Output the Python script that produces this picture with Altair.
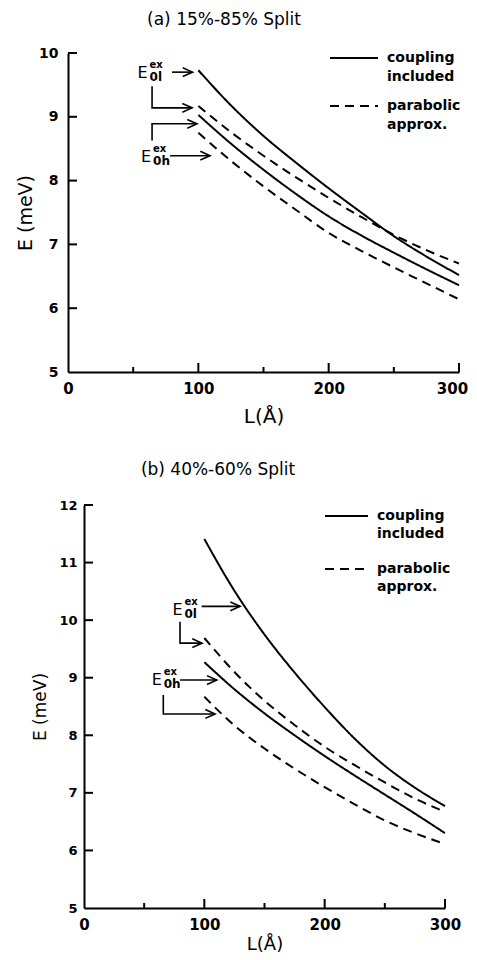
import altair as alt
import pandas as pd

# ---------------- data ----------------
L_VALUES = [100, 125, 150, 175, 200, 225, 250, 275, 300]

# (a) 15%-85% split
A_0L_COUPLING = [9.73, 9.18, 8.70, 8.28, 7.88, 7.50, 7.13, 6.81, 6.52]
A_0L_PARABOLIC = [9.17, 8.76, 8.39, 8.05, 7.73, 7.43, 7.15, 6.91, 6.70]
A_0H_COUPLING = [9.03, 8.58, 8.17, 7.79, 7.44, 7.14, 6.87, 6.61, 6.36]
A_0H_PARABOLIC = [8.75, 8.31, 7.91, 7.54, 7.18, 6.90, 6.64, 6.39, 6.14]

# (b) 40%-60% split
B_0L_COUPLING = [11.41, 10.51, 9.75, 9.09, 8.49, 7.94, 7.47, 7.09, 6.77]
B_0L_PARABOLIC = [9.69, 9.10, 8.60, 8.18, 7.80, 7.48, 7.18, 6.90, 6.67]
B_0H_COUPLING = [9.27, 8.80, 8.38, 8.00, 7.64, 7.30, 6.97, 6.64, 6.30]
B_0H_PARABOLIC = [8.67, 8.17, 7.77, 7.42, 7.10, 6.80, 6.52, 6.30, 6.11]

X_TICK_LABELS = [0, 100, 200, 300]
X_MAJOR_TICKS = [100, 200, 300]
X_MINOR_TICKS = [50, 150, 250]
A_Y_TICK_LABELS = [5, 6, 7, 8, 9, 10]
B_Y_TICK_LABELS = [5, 6, 7, 8, 9, 10, 11, 12]
KINDS = ["coupling", "parabolic"]
LEGEND_TEXT = {"coupling": ["coupling", "included"], "parabolic": ["parabolic", "approx."]}
TITLES = ["(a) 15%-85% Split", "(b) 40%-60% Split"]
AXIS_X_TITLE = "L(Å)"
AXIS_Y_TITLE = "E (meV)"

# annotation arrows (polyline points in data units, head at last point)
A_ARROWS = [
    [(79.8, 9.70), (95.5, 9.70)],
    [(64.5, 9.48), (64.5, 9.14), (95.2, 9.14)],
    [(64.5, 8.63), (64.5, 8.89), (99.0, 8.89)],
    [(78.3, 8.39), (109.0, 8.39)],
]
B_ARROWS = [
    [(97.8, 10.24), (129.7, 10.24)],
    [(79.8, 9.97), (79.8, 9.60), (98.1, 9.60)],
    [(79.8, 8.96), (110.3, 8.96)],
    [(65.9, 8.70), (65.9, 8.37), (108.9, 8.37)],
]
A_LABELS = [("0l", 57.2, 9.68), ("0h", 59.9, 8.37)]
B_LABELS = [("0l", 77.7, 10.17), ("0h", 60.4, 8.96)]

# ---------------- layout ----------------
W, H = 461, 950
FONT = "DejaVu Sans"
HEAD = "M-1,-0.45L0,0L-1,0.45"


def curves_frame(c0l, p0l, c0h, p0h):
    parts = []
    for curve, kind, vals in [("0l c", "coupling", c0l), ("0l p", "parabolic", p0l),
                              ("0h c", "coupling", c0h), ("0h p", "parabolic", p0h)]:
        parts.append(pd.DataFrame({"L": L_VALUES, "E": vals, "curve": curve, "kind": kind}))
    return pd.concat(parts, ignore_index=True)


def arrow_frames(arrows):
    rows, heads = [], []
    for i, pts in enumerate(arrows):
        for j, (x, y) in enumerate(pts):
            rows.append({"id": i, "o": j, "L": x, "E": y})
        heads.append({"L": pts[-1][0], "E": pts[-1][1]})
    return pd.DataFrame(rows), pd.DataFrame(heads)


def panel(df, arrows, labels, title, cfg):
    xr, yr = cfg["xr"], cfg["yr"]
    xs = alt.Scale(domain=[0, 300], range=xr, nice=False, zero=False)
    ys = alt.Scale(domain=cfg["ydom"], range=yr, nice=False, zero=False)
    x_axis = alt.Axis(orient="bottom", offset=yr[0] - H, values=X_TICK_LABELS, ticks=False,
                      tickSize=0, grid=False, domainColor="black", domainWidth=2,
                      labelFont=FONT, labelFontSize=15, labelFontWeight="bold",
                      labelColor="black", labelPadding=9, labelFlush=False,
                      labelOffset={"condition": {"test": "datum.value === 300",
                                                 "value": cfg["last_off"]}, "value": 0},
                      title=AXIS_X_TITLE, titleFont=FONT,
                      titleFontSize=cfg["xtfs"], titleFontWeight="normal", titleColor="black",
                      titlePadding=cfg["xtp"])
    y_axis = alt.Axis(orient="left", offset=-xr[0], values=cfg["yticks"], ticks=False,
                      tickSize=0, grid=False, domainColor="black", domainWidth=2,
                      labelFont=FONT, labelFontSize=cfg["ylfs"], labelFontWeight="bold",
                      labelColor="black", labelPadding=cfg["ylp"], labelFlush=False,
                      title=AXIS_Y_TITLE, titleFont=FONT, titleFontSize=cfg["ytfs"],
                      titleFontWeight="normal", titleColor="black", titlePadding=cfg["ytp"])
    X = lambda: alt.X("L:Q", scale=xs, axis=x_axis)
    Y = lambda: alt.Y("E:Q", scale=ys, axis=y_axis)

    lines = alt.Chart(df).mark_line(interpolate="monotone", color="black", strokeWidth=2).encode(
        x=X(), y=Y(),
        detail="curve:N",
        strokeDash=alt.StrokeDash("kind:N", scale=alt.Scale(domain=KINDS, range=[[1, 0], [9, 6]]),
                                  legend=None),
    )

    major = alt.Chart(pd.DataFrame({"L": X_MAJOR_TICKS})).mark_rule(color="black", strokeWidth=2).encode(
        x=X(), y=alt.value(yr[0]), y2=alt.value(yr[0] - 9))
    minor = alt.Chart(pd.DataFrame({"L": X_MINOR_TICKS})).mark_rule(color="black", strokeWidth=2).encode(
        x=X(), y=alt.value(yr[0]), y2=alt.value(yr[0] - 5))
    yt = alt.Chart(pd.DataFrame({"E": cfg["yticks"][1:]})).mark_rule(color="black", strokeWidth=2).encode(
        y=Y(), x=alt.value(xr[0]), x2=alt.value(xr[0] + 9))

    adf, hdf = arrow_frames(arrows)
    arr = alt.Chart(adf).mark_line(color="black", strokeWidth=1.6).encode(
        x=X(), y=Y(), detail="id:N", order="o:Q")
    heads = alt.Chart(hdf).mark_point(shape=HEAD, filled=False, color="black", strokeWidth=1.6,
                                      size=380, opacity=1).encode(x=X(), y=Y())

    ldf = pd.DataFrame(labels, columns=["sub", "L", "E"])
    e_txt = alt.Chart(ldf).mark_text(text="E", font=FONT, fontSize=16, color="black").encode(
        x=X(), y=Y())
    sup = alt.Chart(ldf).mark_text(text="ex", font=FONT, fontSize=10, fontWeight="bold", color="black",
                                   align="left", dx=7, dy=-8).encode(x=X(), y=Y())
    sub = alt.Chart(ldf).mark_text(font=FONT, fontSize=12, fontWeight="bold", color="black",
                                   align="left", dx=7, dy=4).encode(x=X(), y=Y(), text="sub:N")

    lg = cfg["legend"]
    legend_layers = []
    for kind, ly in zip(KINDS, lg["ys"]):
        dash = [1, 0] if kind == "coupling" else [9, 6]
        legend_layers.append(
            alt.Chart(pd.DataFrame({"k": [kind]})).mark_rule(color="black", strokeWidth=2,
                                                             strokeDash=dash).encode(
                x=alt.value(lg["x0"]), x2=alt.value(lg["x1"]), y=alt.value(ly)))
        for n, line in enumerate(LEGEND_TEXT[kind]):
            legend_layers.append(
                alt.Chart(pd.DataFrame({"t": [line]})).mark_text(
                    font=FONT, fontSize=14, fontWeight="bold", color="black", align="left",
                    baseline="middle").encode(
                    x=alt.value(lg["tx"]), y=alt.value(ly + n * lg["lh"]), text="t:N"))

    ttl = alt.Chart(pd.DataFrame({"t": [title]})).mark_text(
        font=FONT, fontSize=17, color="black", baseline="alphabetic").encode(
        x=alt.value(cfg["title_xy"][0]), y=alt.value(cfg["title_xy"][1]), text="t:N")

    return alt.layer(lines, major, minor, yt, arr, heads, e_txt, sup, sub, ttl, *legend_layers)


cfg_a = dict(xr=[60, 451], yr=[364, 45], ydom=[5, 10], yticks=A_Y_TICK_LABELS, ylfs=14, ylp=10,
             ytp=3, ytfs=19, xtp=10, xtfs=20, title_xy=(216, 17), last_off=-7,
             legend=dict(x0=322, x1=370, tx=379, ys=[50, 98], lh=19))
cfg_b = dict(xr=[76, 437], yr=[900, 497], ydom=[5, 12], yticks=B_Y_TICK_LABELS, ylfs=13, ylp=7,
             ytp=9, ytfs=17, xtp=3, xtfs=18, title_xy=(210, 467), last_off=0,
             legend=dict(x0=317, x1=360, tx=369, ys=[508, 561], lh=18))

panel_a = panel(curves_frame(A_0L_COUPLING, A_0L_PARABOLIC, A_0H_COUPLING, A_0H_PARABOLIC),
                A_ARROWS, A_LABELS, TITLES[0], cfg_a)
panel_b = panel(curves_frame(B_0L_COUPLING, B_0L_PARABOLIC, B_0H_COUPLING, B_0H_PARABOLIC),
                B_ARROWS, B_LABELS, TITLES[1], cfg_b)

chart = alt.layer(panel_a, panel_b).resolve_scale(x="independent", y="independent").properties(
    width=W, height=H, autosize=alt.AutoSizeParams(type="none"), padding=0
).configure_view(stroke=None)

chart.save("out.html", embed_options={"renderer": "svg", "actions": False})
